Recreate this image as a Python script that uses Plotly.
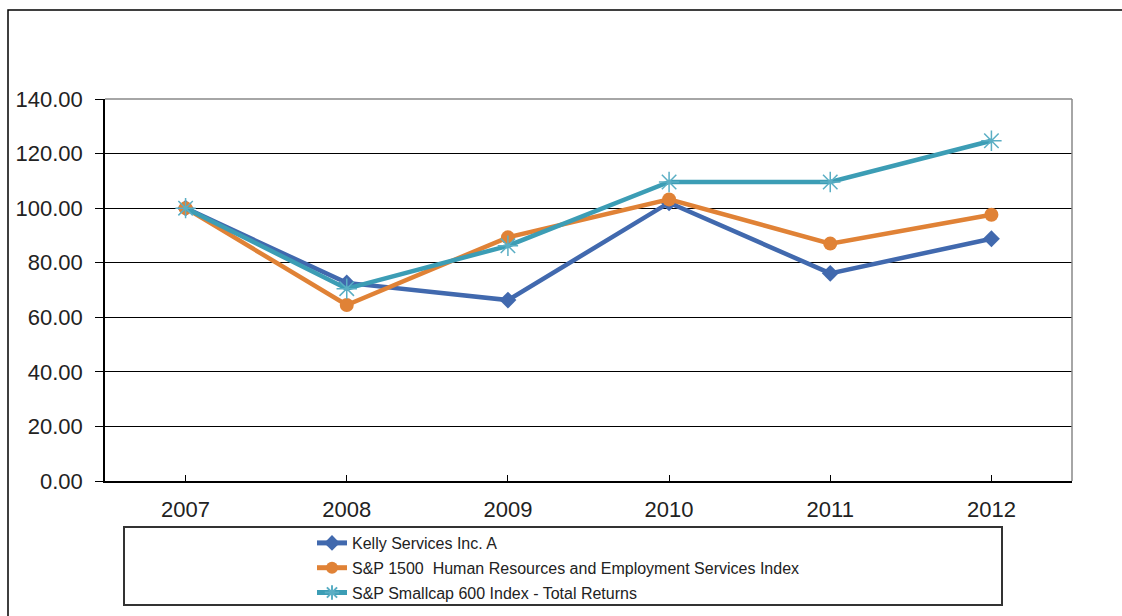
import plotly.graph_objects as go

years = ["2007", "2008", "2009", "2010", "2011", "2012"]
kelly = [100.0, 72.6, 66.3, 102.0, 76.1, 88.8]
hr_index = [100.0, 64.5, 89.3, 103.2, 87.0, 97.6]
smallcap = [100.0, 70.5, 86.2, 109.6, 109.6, 124.7]

names = [
    "Kelly Services Inc. A",
    "S&P 1500  Human Resources and Employment Services Index",
    "S&P Smallcap 600 Index - Total Returns",
]
colors = ["#4169ae", "#e08236", "#3c9db5"]

fig = go.Figure()
fig.add_trace(go.Scatter(
    x=years, y=kelly, name=names[0], mode="lines+markers", legendgroup="a",
    line=dict(color=colors[0], width=4.5),
    marker=dict(symbol="diamond", size=13, color=colors[0]),
))
fig.add_trace(go.Scatter(
    x=years, y=hr_index, name=names[1], mode="lines+markers", legendgroup="b",
    line=dict(color=colors[1], width=4.5),
    marker=dict(symbol="circle", size=14, color=colors[1]),
))
fig.add_trace(go.Scatter(
    x=years, y=smallcap, name=names[2], mode="lines+markers", legendgroup="c",
    line=dict(color=colors[2], width=4.5),
    marker=dict(symbol="asterisk-open", size=17, color="#5aaec4",
                line=dict(color="#5aaec4", width=1.5)),
))

L, R, T, B = 105, 50, 99, 135
W, H = 1122, 616
pw, ph = W - L - R, H - T - B


def px(x):
    return (x - L) / pw


def py(y):
    return (T + ph - y) / ph


fig.update_layout(
    width=W, height=H,
    margin=dict(l=L, r=R, t=T, b=B, autoexpand=False),
    paper_bgcolor="white", plot_bgcolor="white",
    font=dict(family="Liberation Sans, Arial, sans-serif", color="#222"),
    showlegend=True,
    legend=dict(
        x=px(312), y=py(526), xanchor="left", yanchor="top",
        font=dict(size=16, family="Liberation Sans, Arial, sans-serif", color="#222"),
        bgcolor="rgba(0,0,0,0)", borderwidth=0,
        traceorder="grouped", tracegroupgap=1, itemsizing="constant",
    ),
    xaxis=dict(
        type="category", range=[-0.5, 5.5],
        showline=True, linecolor="black", linewidth=1.5,
        ticks="inside", ticklen=6, tickcolor="black",
        tickfont=dict(size=22), ticklabelstandoff=8,
        showgrid=False, zeroline=False,
    ),
    yaxis=dict(
        range=[0, 140], tickvals=[0, 20, 40, 60, 80, 100, 120, 140],
        tickformat=".2f",
        showline=True, linecolor="black", linewidth=1.5,
        ticks="outside", ticklen=8, tickcolor="black",
        tickfont=dict(size=22), ticklabelstandoff=8,
        showgrid=True, gridcolor="black", gridwidth=1.2,
        zeroline=False,
    ),
    shapes=[
        dict(type="line", xref="paper", yref="paper", x0=0, x1=1, y0=1, y1=1,
             line=dict(color="#888", width=1.5)),
        dict(type="line", xref="paper", yref="paper", x0=1, x1=1, y0=0, y1=1,
             line=dict(color="#888", width=1.5)),
        dict(type="rect", xref="paper", yref="paper",
             x0=px(124), x1=px(1002), y0=py(605), y1=py(527),
             line=dict(color="#333", width=2)),
        dict(type="rect", xref="paper", yref="paper",
             x0=px(8), x1=px(1170), y0=py(640), y1=py(10),
             line=dict(color="black", width=1.5)),
    ],
)

fig.write_html("out.html")
